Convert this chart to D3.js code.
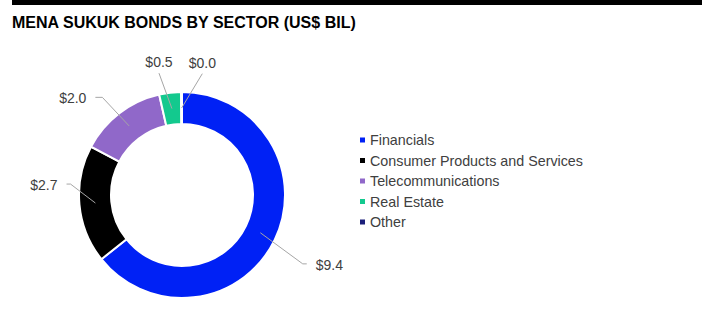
<!DOCTYPE html>
<html>
<head>
<meta charset="utf-8">
<script src="https://cdn.jsdelivr.net/npm/d3@7/dist/d3.min.js"></script>
<style>
  html, body { margin: 0; padding: 0; background: #fff; }
  svg { display: block; font-family: "Liberation Sans", Arial, sans-serif; }
</style>
</head>
<body>
<svg id="chart" width="719" height="330"></svg>
<script>
// Sukuk issuance by sector, US$ billions
const sectors = ["Financials", "Consumer Products and Services", "Telecommunications", "Real Estate", "Other"];
const values = [9.4, 2.7, 2.0, 0.5, 0.02];
const colors = ["#0021f5", "#000000", "#9068c9", "#13c98e", "#1b1f7a"];
const title = "MENA SUKUK BONDS BY SECTOR (US$ BIL)";

const svg = d3.select("#chart");

// header rule and title
svg.append("rect").attr("x", 12).attr("y", 0).attr("width", 690).attr("height", 5).attr("fill", "#000");
svg.append("text").attr("x", 12).attr("y", 28)
  .attr("font-size", 16).attr("font-weight", "bold").attr("fill", "#000")
  .text(title);

// donut
const cx = 182, cy = 195, rOuter = 103, rInner = 71;
const data = sectors.map((s, i) => ({ sector: s, value: values[i], color: colors[i] }));

const pie = d3.pie().value(d => d.value).sort(null);
const arc = d3.arc().innerRadius(rInner).outerRadius(rOuter);
const arcs = pie(data);

const g = svg.append("g").attr("transform", `translate(${cx},${cy})`);
g.selectAll("path.slice").data(arcs).join("path")
  .attr("class", "slice")
  .attr("d", arc)
  .attr("fill", d => d.data.color)
  .attr("stroke", "#fff")
  .attr("stroke-width", 2);

// label elbow placement: polar position of elbow (deg clockwise from 12 o'clock, radius),
// horizontal tail direction and length
const labelLayout = [
  { angle: 119.7, radius: 139, dir: 1, tail: 4 },
  { angle: 275.6, radius: 112, dir: -1, tail: 4 },
  { angle: 320.8, radius: 126, dir: -1, tail: 7 },
  { angle: 349.3, radius: 124, dir: 0, tail: 0 },
  { angle: 9.5, radius: 123, dir: 0, tail: 0 }
];

const polar = (deg, r) => {
  const a = deg * Math.PI / 180;
  return [r * Math.sin(a), -r * Math.cos(a)];
};
const mid = d3.arc().innerRadius((rInner + rOuter) / 2).outerRadius((rInner + rOuter) / 2);
const fmt = v => "$" + d3.format(".1f")(v);

arcs.forEach((d, i) => {
  const L = labelLayout[i];
  const c = mid.centroid(d);
  const e = polar(L.angle, L.radius);
  const t = [e[0] + L.dir * L.tail, e[1]];
  g.append("polyline")
    .attr("points", [c, e, t].map(p => p.join(",")).join(" "))
    .attr("fill", "none").attr("stroke", "#a6a6a6").attr("stroke-width", 1);
  let tx, ty, anchor;
  if (L.dir === 0) {
    tx = e[0]; ty = e[1] - 11; anchor = "middle";
  } else {
    tx = t[0] + L.dir * 9; ty = e[1] + 1; anchor = L.dir > 0 ? "start" : "end";
  }
  g.append("text")
    .attr("x", tx).attr("y", ty)
    .attr("dy", "0.35em")
    .attr("text-anchor", anchor)
    .attr("font-size", 14).attr("fill", "#404040")
    .text(fmt(d.data.value));
});

// legend
const legend = svg.append("g").attr("transform", "translate(360,140)");
const rows = legend.selectAll("g").data(data).join("g")
  .attr("transform", (d, i) => `translate(0,${i * 20.5})`);
rows.append("rect").attr("x", 0).attr("y", -2.5).attr("width", 5).attr("height", 5)
  .attr("fill", d => d.color);
rows.append("text").attr("x", 10).attr("y", 0).attr("dy", "0.35em")
  .attr("font-size", 14.3).attr("fill", "#404040")
  .text(d => d.sector);
</script>
</body>
</html>
